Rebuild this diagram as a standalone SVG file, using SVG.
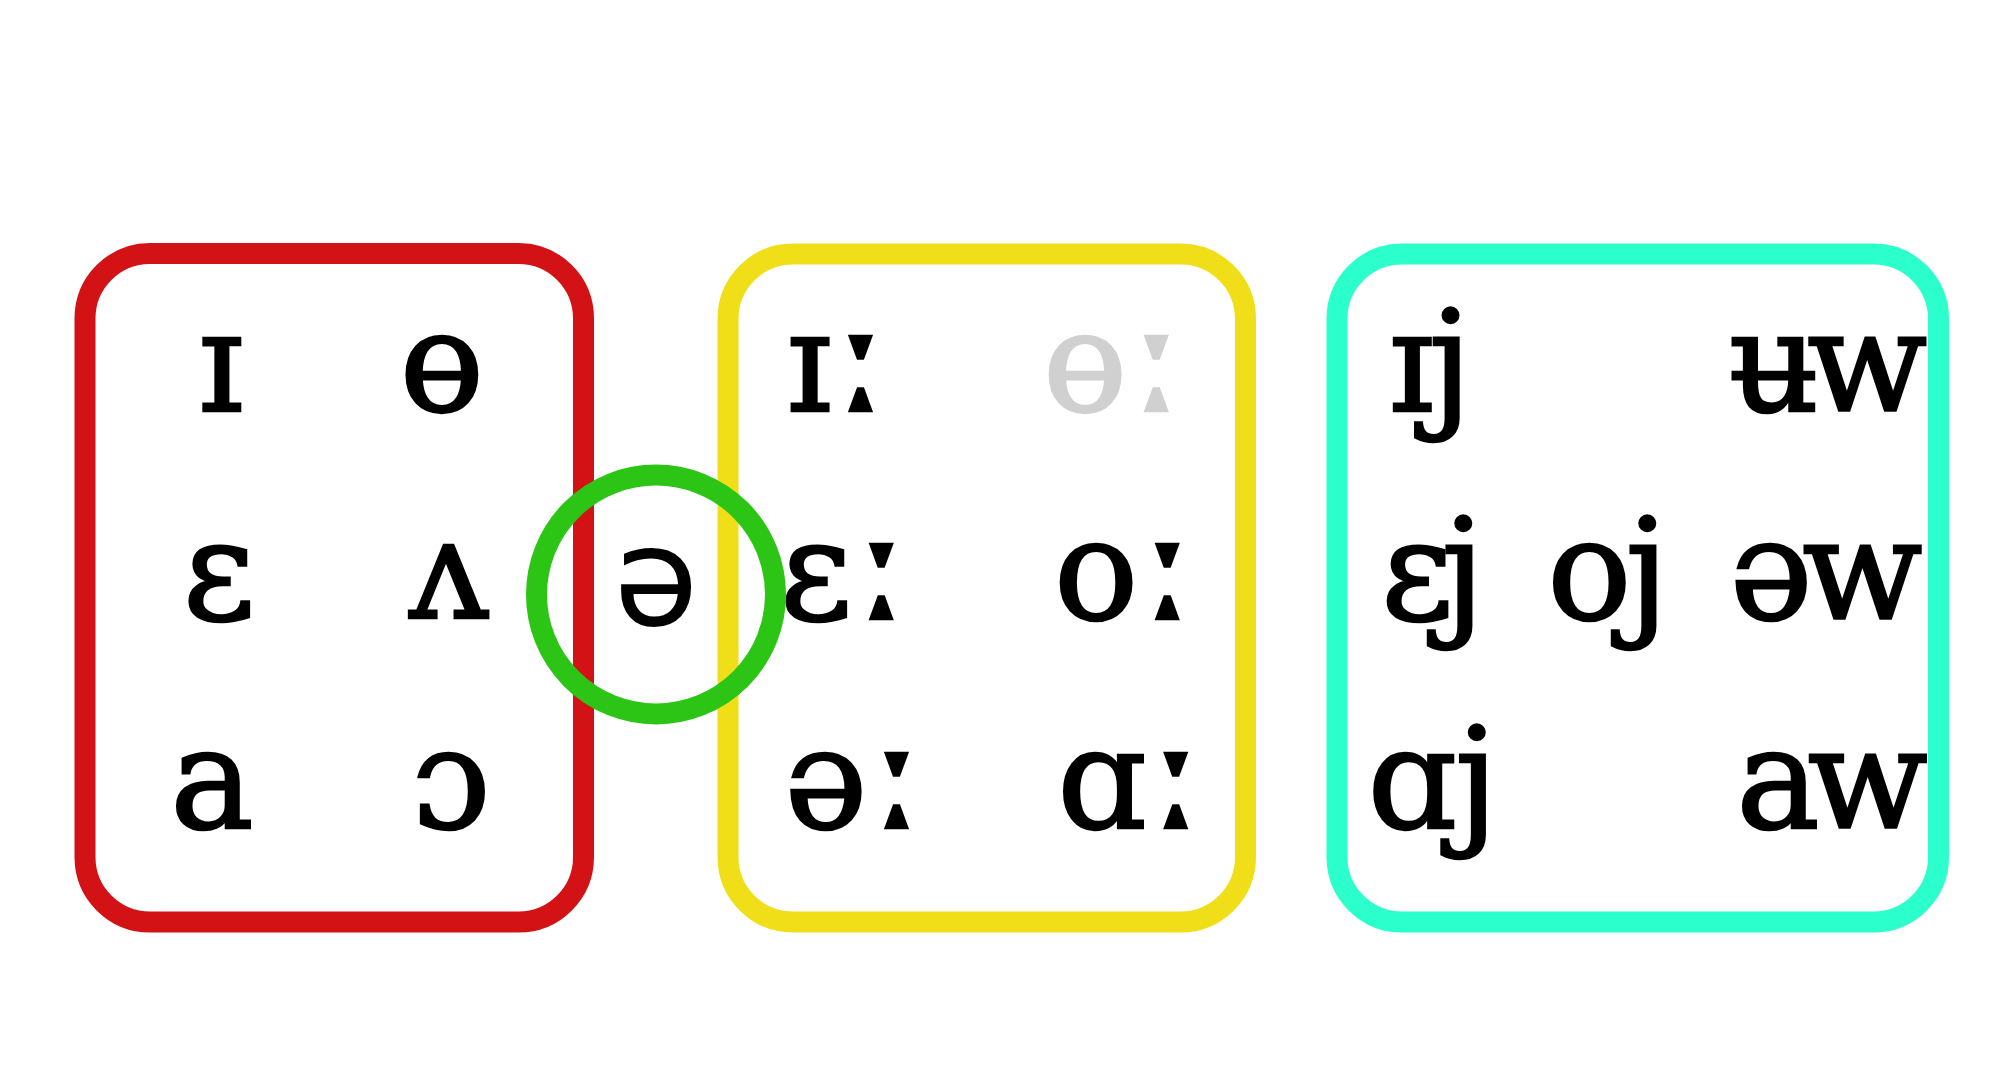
<svg xmlns="http://www.w3.org/2000/svg" width="2008" height="1075" viewBox="0 0 2008 1075">
<style>
.box{fill:none;stroke-width:21}
.ipa{font-family:"DejaVu Serif","Liberation Serif",serif;font-size:140px;fill:#000;stroke:#000;stroke-width:2.5;text-anchor:middle}
.grey{fill:#d0d0d0;stroke:#d0d0d0}
.len{font-size:172px}
.sans{font-family:"DejaVu Sans","Liberation Sans",sans-serif;font-size:138px;fill:#000;text-anchor:middle}
</style>
<rect width="2008" height="1075" fill="#fff"/>
<g id="short-vowels">
<rect class="box" x="85" y="253.5" width="498.5" height="668.5" rx="65" stroke="#d31216"/>
<text class="ipa" x="221" y="411">ɪ</text>
<text class="ipa" x="442" y="411">ɵ</text>
<text class="ipa" x="219" y="619">ɛ</text>
<text class="ipa" x="449" y="618">ʌ</text>
<text class="ipa" x="212" y="828">a</text>
<text class="ipa" x="451" y="828">ɔ</text>
</g>
<g id="long-vowels">
<rect class="box" x="728" y="254" width="517.5" height="668" rx="65" stroke="#f0df18"/>
<text class="ipa" x="838" y="411">ɪ<tspan class="len">ː</tspan></text>
<text class="ipa grey" x="1114" y="411">ɵ<tspan class="len">ː</tspan></text>
<text class="ipa" x="845" y="619">ɛ<tspan class="len">ː</tspan></text>
<text class="ipa" x="1125" y="619">o<tspan class="len">ː</tspan></text>
<text class="ipa" x="855" y="828">ə<tspan class="len">ː</tspan></text>
<text class="ipa" x="1131" y="828">ɑ<tspan class="len">ː</tspan></text>
</g>
<g id="diphthongs">
<rect class="box" x="1337" y="254" width="601.5" height="668" rx="65" stroke="#2bffcb"/>
<text class="ipa" x="1428" y="411" style="letter-spacing:-5px">ɪj</text>
<text class="ipa" x="1822" y="411" style="letter-spacing:-12px">ʉw</text>
<text class="ipa" x="1427" y="619" style="letter-spacing:-12px">ɛj</text>
<text class="ipa" x="1605" y="619" style="letter-spacing:-6px">oj</text>
<text class="ipa" x="1821" y="619" style="letter-spacing:-10px">əw</text>
<text class="ipa" x="1432" y="828" style="letter-spacing:-2px">ɑj</text>
<text class="ipa" x="1826" y="828" style="letter-spacing:-12px">aw</text>
</g>
<g id="schwa">
<circle cx="656" cy="594.5" r="119.5" fill="none" stroke="#2cc415" stroke-width="21"/>
<text class="sans" x="656" y="625">ə</text>
</g>
<g id="connectors"></g>
</svg>
